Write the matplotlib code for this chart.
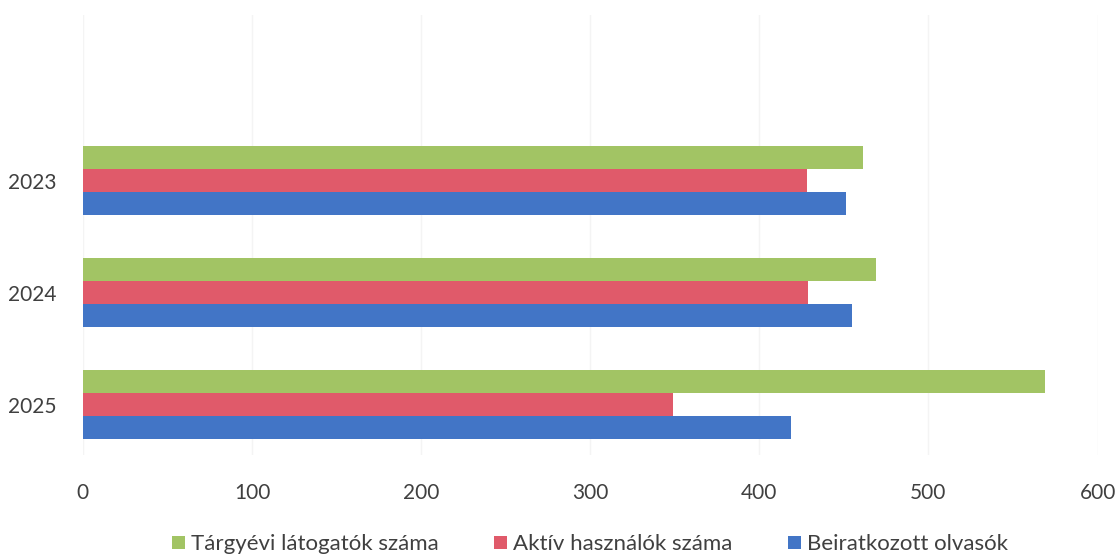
import matplotlib.pyplot as plt
import numpy as np

plt.rcParams['font.family'] = ['Lato', 'DejaVu Sans']

years = ['2023', '2024', '2025']
latogatok = [461, 469, 569]   # Tárgyévi látogatók száma
aktiv = [428, 429, 349]       # Aktív használók száma
beiratkozott = [451, 455, 419]  # Beiratkozott olvasók

series_names = ['Tárgyévi látogatók száma', 'Aktív használók száma', 'Beiratkozott olvasók']
colors = ['#A2C464', '#E05A6A', '#4275C6']

fig = plt.figure(figsize=(11.2, 5.55), dpi=100)
ax = fig.add_axes([0.074, 0.18, 0.906, 0.793])

y = np.arange(len(years))
h = 0.205
for i, (vals, name, c) in enumerate(zip([latogatok, aktiv, beiratkozott], series_names, colors)):
    ax.barh(y + (i - 1) * h, vals, height=h, color=c, label=name, zorder=2)

ax.set_xlim(0, 600)
ax.set_ylim(2.45, -1.48)
ax.set_xticks(range(0, 601, 100))
ax.set_yticks(y)
ax.set_yticklabels(years)
ax.tick_params(axis='both', length=0, labelsize=15, colors='#404040')
ax.tick_params(axis='x', pad=20)
ax.tick_params(axis='y', pad=19)
ax.grid(axis='x', color='#f4f4f4', linewidth=1, zorder=0)
for s in ax.spines.values():
    s.set_visible(False)

fig.legend(loc='lower center', bbox_to_anchor=(0.527, -0.035), ncol=3, frameon=False,
           fontsize=16, handlelength=0.55, handleheight=0.55, handletextpad=0.3,
           columnspacing=2.5, labelcolor='#404040')

plt.savefig('out.png', dpi=100)
